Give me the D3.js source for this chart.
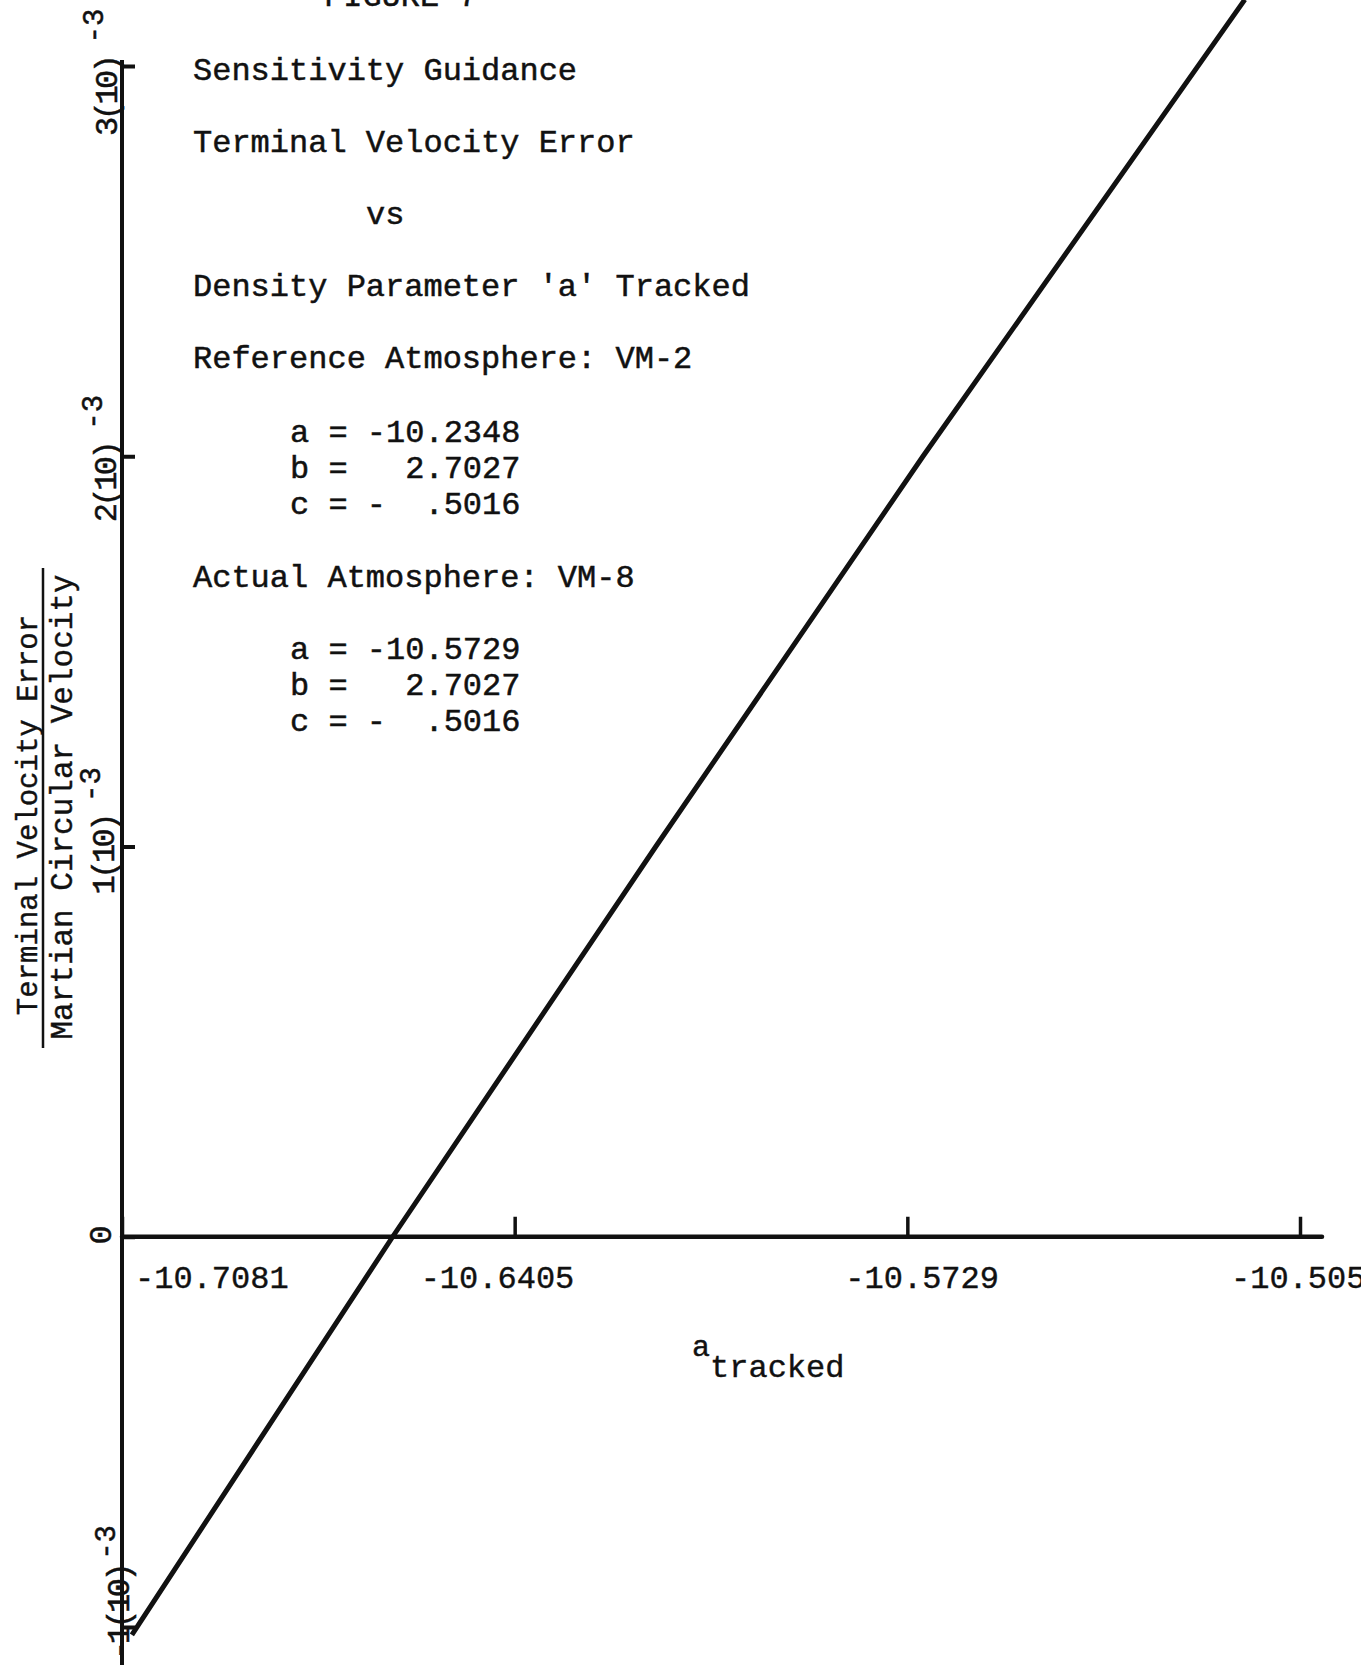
<!DOCTYPE html>
<html>
<head>
<meta charset="utf-8">
<script src="https://cdn.jsdelivr.net/npm/d3@7"></script>
<style>
  html, body { margin: 0; padding: 0; background: #fff; }
  svg { display: block; overflow: hidden; }
  text { font-family: "Liberation Mono", "Courier New", monospace; fill: #111; white-space: pre; }
</style>
</head>
<body>
<svg id="chart"></svg>
<script>
const width = 1361;
const height = 1665;

// x axis: tracked density parameter 'a'
const xTicks = [-10.7081, -10.6405, -10.5729, -10.5053];
const xTickLabels = ["-10.7081", "-10.6405", "-10.5729", "-10.5053"];

// y axis: terminal velocity error / martian circular velocity
const yTicks = [-1e-3, 0, 1e-3, 2e-3, 3e-3];
const yTickMantissa = ["-1(10)", "0", "1(10)", "2(10)", "3(10)"];
const yTickExponent = ["-3", "", "-3", "-3", "-3"];

// the plotted line
const aTracked = [-10.7064, -10.6615, -10.6162, -10.5702, -10.5148];
const velError = [-1.02e-3, 0, 1e-3, 2e-3, 3.17e-3];

// notes typed on the chart
const noteLines = [
  {t: "FIGURE 7", x: 324, y: 6},
  {t: "Sensitivity Guidance", x: 193, y: 80},
  {t: "Terminal Velocity Error", x: 193, y: 152},
  {t: "vs", x: 366, y: 224},
  {t: "Density Parameter 'a' Tracked", x: 193, y: 296},
  {t: "Reference Atmosphere: VM-2", x: 193, y: 368},
  {t: "a = -10.2348", x: 290, y: 442},
  {t: "b =   2.7027", x: 290, y: 478},
  {t: "c = -  .5016", x: 290, y: 514},
  {t: "Actual Atmosphere: VM-8", x: 193, y: 587},
  {t: "a = -10.5729", x: 290, y: 659},
  {t: "b =   2.7027", x: 290, y: 695},
  {t: "c = -  .5016", x: 290, y: 731}
];

const svg = d3.select("#chart")
    .attr("width", width)
    .attr("height", height);

const x = d3.scaleLinear()
    .domain([xTicks[0], xTicks[xTicks.length - 1]])
    .range([122, 1300]);

const y = d3.scaleLinear()
    .domain([yTicks[0], yTicks[yTicks.length - 1]])
    .range([1627, 66]);

//x axis, ticks pointing up
const xAxis = d3.axisBottom(x)
    .tickValues(xTicks)
    .tickSize(-20)
    .tickSizeOuter(0)
    .tickFormat((d, i) => xTickLabels[i]);

const gx = svg.append("g")
    .attr("transform", `translate(0,${y(0)})`)
    .call(xAxis);
gx.select(".domain").remove();
gx.selectAll(".tick line")
    .attr("stroke", "#111")
    .attr("stroke-width", 3.5);
gx.selectAll(".tick text").remove();

svg.append("line")
    .attr("x1", x.range()[0]).attr("x2", x.range()[1] + 22)
    .attr("y1", y(0)).attr("y2", y(0))
    .attr("stroke", "#111")
    .attr("stroke-width", 4.5)
    .attr("stroke-linecap", "round");

const xLabelNudge = [13, -94, -62, -69];
svg.append("g")
    .selectAll("text")
    .data(xTicks)
    .join("text")
        .attr("x", (d, i) => x(d) + xLabelNudge[i])
        .attr("y", y(0) + 51)
        .attr("font-size", 32)
        .attr("stroke", "#111")
        .attr("stroke-width", 0.4)
        .text((d, i) => xTickLabels[i]);

//y axis, ticks pointing right
const yAxis = d3.axisRight(y)
    .tickValues(yTicks)
    .tickSize(13)
    .tickSizeOuter(0)
    .tickFormat("");

const gy = svg.append("g")
    .attr("transform", `translate(${x.range()[0]},0)`)
    .call(yAxis);
gy.select(".domain").remove();
gy.selectAll(".tick line")
    .attr("stroke", "#111")
    .attr("stroke-width", 4);

svg.append("line")
    .attr("x1", x.range()[0]).attr("x2", x.range()[0])
    .attr("y1", y(3e-3) - 6).attr("y2", height)
    .attr("stroke", "#111")
    .attr("stroke-width", 4);

//rotated tick labels, typed unevenly along the axis
const yLabelShift = [33, 0, 48, 66, 70];
const yLabelBase = [129, 111, 114, 116, 117];
const yExpGap = [6, 0, 14, 14, 14];
yTicks.forEach((d, i) => {
    const lab = svg.append("text")
        .attr("transform", `translate(${yLabelBase[i]},${y(d) + yLabelShift[i]}) rotate(-90)`)
        .attr("font-size", 32)
        .attr("letter-spacing", -3.5)
        .attr("stroke", "#111")
        .attr("stroke-width", 0.5)
        .attr("text-anchor", yTickExponent[i] ? "start" : "middle")
        .text(yTickMantissa[i]);
    if (yTickExponent[i]) {
        lab.append("tspan")
            .attr("dx", yExpGap[i])
            .attr("dy", -14)
            .attr("font-size", 29)
            .attr("letter-spacing", 0)
            .text(yTickExponent[i]);
    }
});

//y axis title as a fraction
const titleMid = 815;
svg.append("text")
    .attr("transform", `translate(37,${titleMid}) rotate(-90)`)
    .attr("text-anchor", "middle")
    .attr("font-size", 29)
    .attr("stroke", "#111")
    .attr("stroke-width", 0.4)
    .text("Terminal Velocity Error");
svg.append("text")
    .attr("transform", `translate(72,${titleMid - 8}) rotate(-90)`)
    .attr("text-anchor", "middle")
    .attr("font-size", 31)
    .attr("stroke", "#111")
    .attr("stroke-width", 0.4)
    .text("Martian Circular Velocity");
svg.append("line")
    .attr("x1", 43).attr("x2", 43)
    .attr("y1", 568).attr("y2", 1048)
    .attr("stroke", "#111")
    .attr("stroke-width", 2.5);

//x axis title
const xt = svg.append("text")
    .attr("x", 692)
    .attr("y", 1356)
    .attr("font-size", 30)
    .attr("stroke", "#111")
    .attr("stroke-width", 0.4)
    .text("a");
xt.append("tspan")
    .attr("dy", 21)
    .attr("dx", 0)
    .attr("font-size", 32)
    .text("tracked");

//notes
svg.append("g")
    .selectAll("text")
    .data(noteLines)
    .join("text")
        .attr("x", d => d.x)
        .attr("y", d => d.y)
        .attr("font-size", 32)
        .attr("stroke", "#111")
        .attr("stroke-width", 0.5)
        .text(d => d.t);

//the line
const lineGen = d3.line()
    .x(d => x(d[0]))
    .y(d => y(d[1]));

svg.append("path")
    .datum(aTracked.map((a, i) => [a, velError[i]]))
    .attr("d", lineGen)
    .attr("fill", "none")
    .attr("stroke", "#111")
    .attr("stroke-width", 5);
</script>
</body>
</html>
